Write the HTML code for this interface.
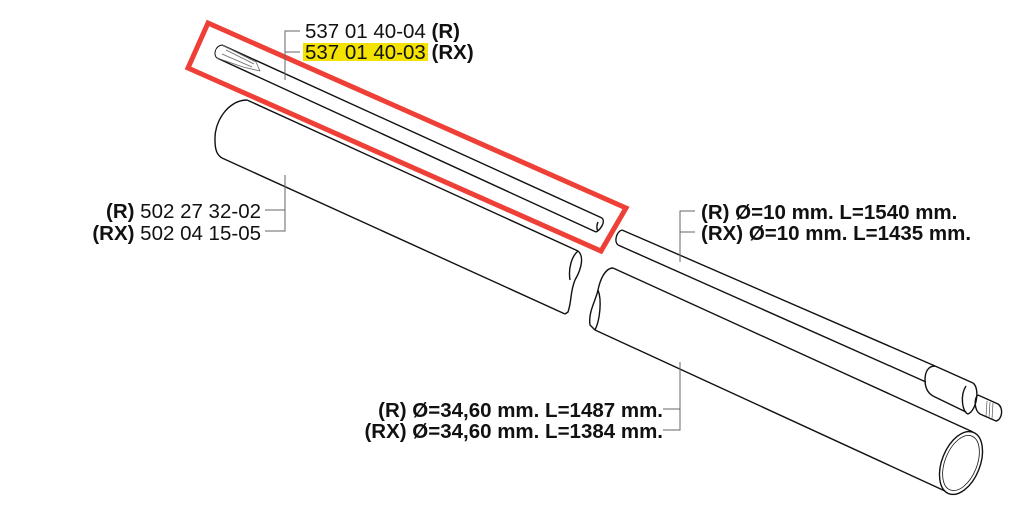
<!DOCTYPE html>
<html><head><meta charset="utf-8"><style>
html,body{margin:0;padding:0;background:#fff;}
svg{display:block;}
text{font-family:"Liberation Sans",Arial,sans-serif;font-size:20.5px;fill:#111;}
.b{font-weight:bold;}
</style></head><body>
<svg width="1022" height="528" viewBox="0 0 1022 528" xmlns="http://www.w3.org/2000/svg">
<g fill="none" stroke="#111" stroke-width="1.4" stroke-linejoin="round">
<!-- thin rod in box -->
<path d="M222,45 L602,218 M217,58 L596,232"/>
<path d="M602,218 C606,222 600,230 596,232 M598,222 C596,226 597,230 598,231"/>
<path d="M222,45 C215,46 213,55 217,58" stroke-width="1"/>
<path d="M222,45 L256,62 L260,71 L243,67 L217,58 M226,50 L254,64 M222,54 L252,67" stroke="#666" stroke-width="0.8"/>
<!-- left tube -->
<path d="M247,100 L578,251 M222,158 L565,314"/>
<path d="M247,100 C228,100 214,122 215,140 C215,150 217,155 222,158"/>
<path d="M578,251 C584,256 582,268 575,280 C570,292 572,300 568,312 L565,314 M578,251 C572,256 568,268 570,280"/>
<!-- right rod -->
<path d="M622,230 L935,366 M618,245 L926,382"/>
<path d="M622,230 C616,232 614,242 618,245"/>
<path d="M935,366 C928,366 925,372 925,380 C925,388 928,394 935,397 L966,412 M935,366 L973,383"/>
<path d="M973,383 C980,388 977,410 968,414 C962,412 960,395 966,386"/>
<path d="M978,395 L998,404 C1004,408 1002,420 996,421 L980,414 M978,395 C974,398 974,410 980,414"/>
<path d="M987,401 L986,416 M990,402 L989,418 M993,403 L992,419" stroke-width="0.7" stroke="#555"/>
<!-- right tube -->
<path d="M613,268 L973,432 M595,330 L945,491"/>
<path d="M613,268 C605,268 600,280 598,290 C596,300 588,312 590,325 L595,330 M598,290 C602,300 600,320 595,330"/>
<ellipse cx="961" cy="463" rx="19" ry="33" transform="rotate(22 961 463)"/>
<ellipse cx="961" cy="463" rx="16" ry="29" transform="rotate(22 961 463)" stroke-width="0.8"/>
</g>
<!-- red box -->
<polygon points="208,23 626,208 601,251 188,68" fill="none" stroke="#ee4036" stroke-width="5"/>
<!-- leaders -->
<g stroke="#666" stroke-width="1" fill="none">
<path d="M300,31 L285,31 L285,80 M285,52 L300,52"/>
<path d="M265,210 L285,210 L285,175 M285,210 L285,231 L265,231"/>
<path d="M695,211 L680,211 L680,262 M680,232 L695,232"/>
<path d="M663,409 L680,409 L680,362 M680,409 L680,430 L663,430"/>
</g>
<rect x="303" y="43" width="125" height="18" fill="#f4e200"/>
<text x="305" y="38">537 01 40-04 <tspan class="b">(R)</tspan></text>
<text x="305" y="59">537 01 40-03 <tspan class="b">(RX)</tspan></text>
<text x="261" y="218" text-anchor="end"><tspan class="b">(R)</tspan> 502 27 32-02</text>
<text x="261" y="240" text-anchor="end"><tspan class="b">(RX)</tspan> 502 04 15-05</text>
<text x="701" y="219" class="b">(R) Ø=10 mm. L=1540 mm.</text>
<text x="701" y="240" class="b">(RX) Ø=10 mm. L=1435 mm.</text>
<text x="663" y="417" class="b" text-anchor="end">(R) Ø=34,60 mm. L=1487 mm.</text>
<text x="663" y="438" class="b" text-anchor="end">(RX) Ø=34,60 mm. L=1384 mm.</text>
</svg>
</body></html>
